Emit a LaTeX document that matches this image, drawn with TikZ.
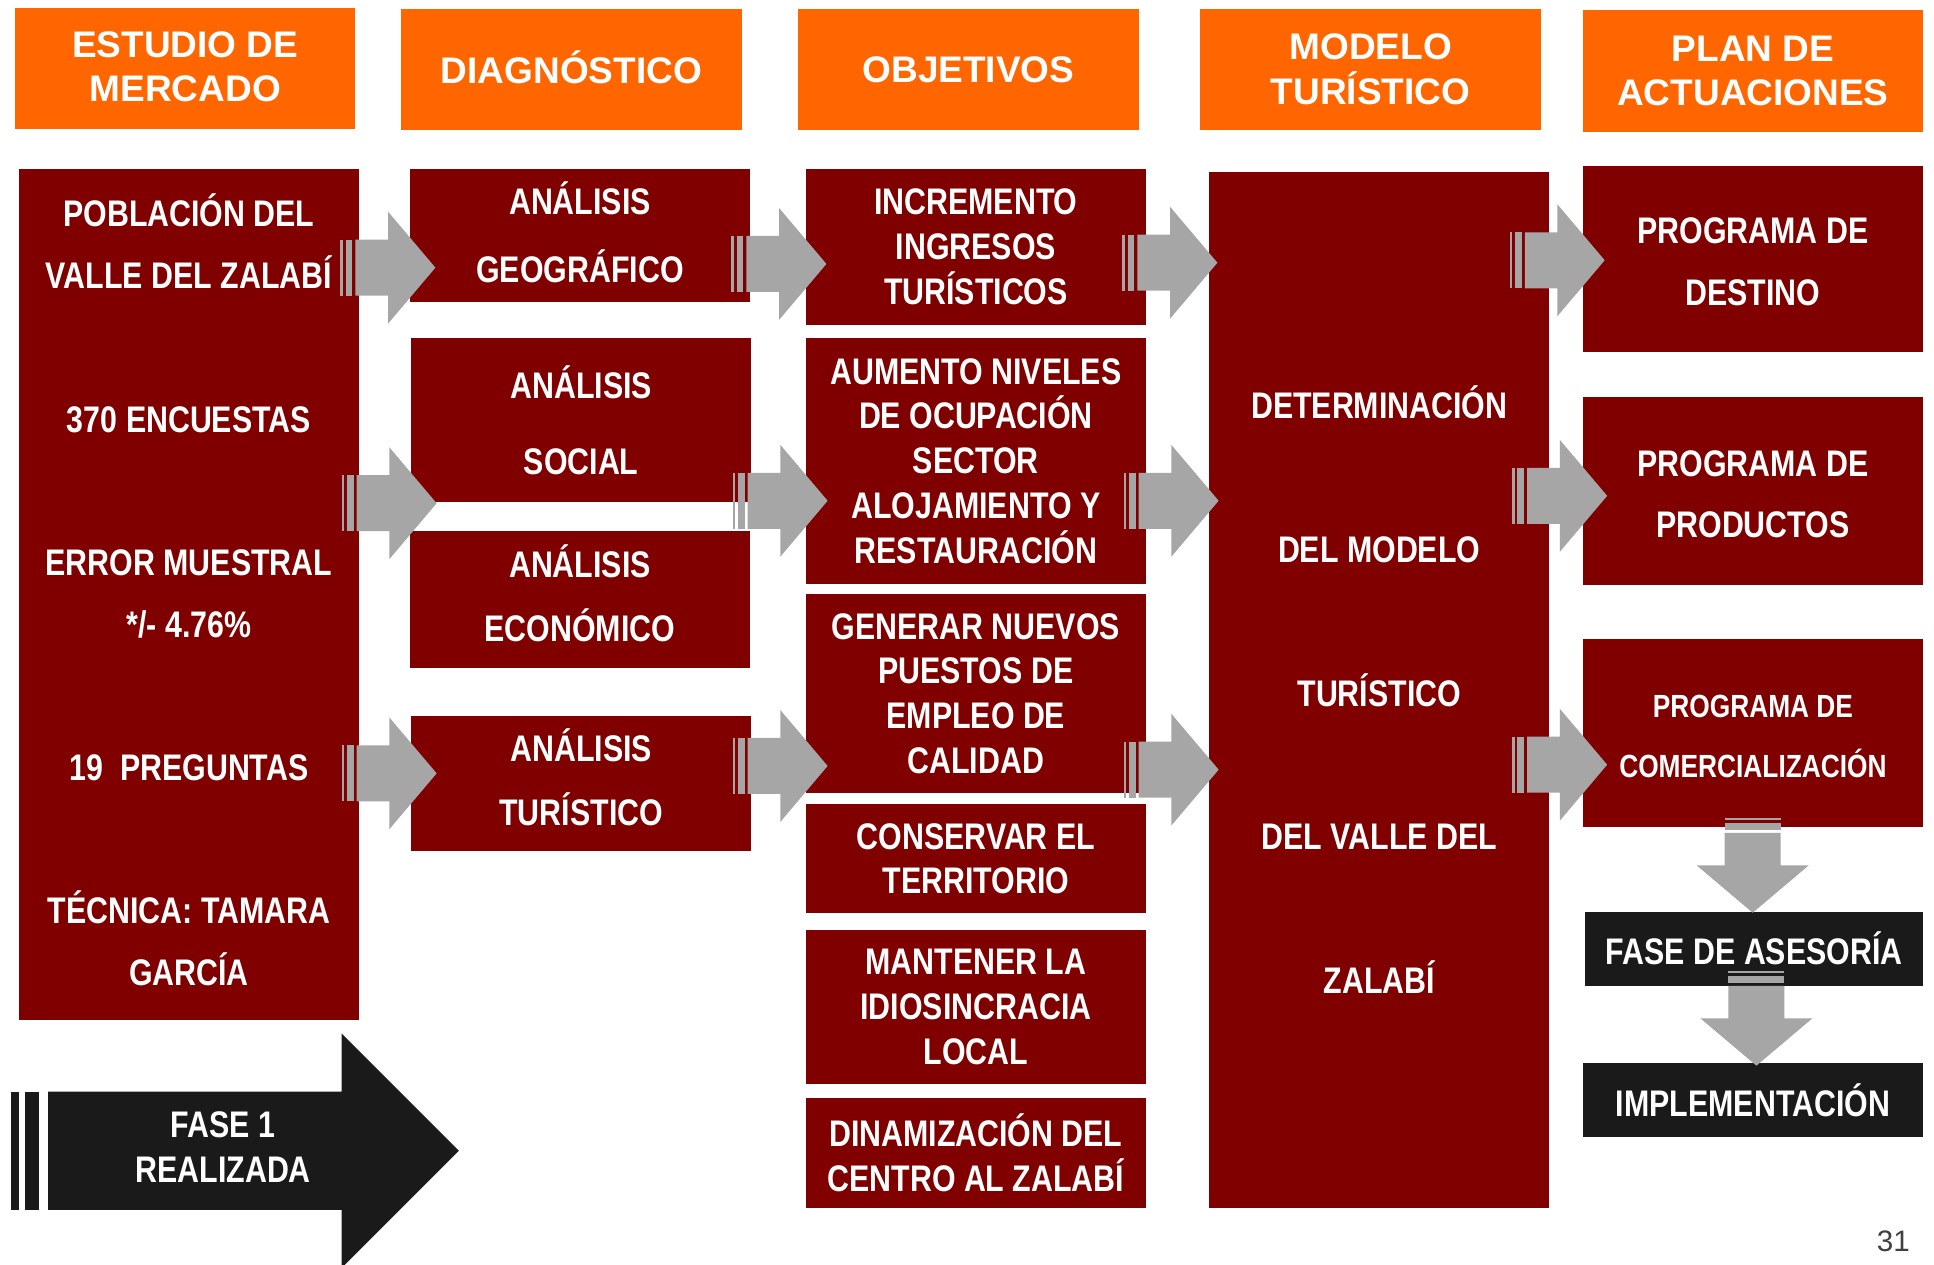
\documentclass[tikz,border=0pt]{standalone}
\usepackage{fontspec}
\setmainfont{Liberation Sans}
\newfontfamily\narrowfont{Liberation Sans}[FakeStretch=0.82]
\definecolor{orangeH}{HTML}{FF6600}
\definecolor{dred}{HTML}{800000}
\definecolor{agray}{HTML}{A6A6A6}
\definecolor{blk}{HTML}{1A1A1A}
\definecolor{pgnum}{HTML}{404040}
\newcommand\nf[2]{\narrowfont\bfseries\fontsize{#1}{#2}\selectfont}
\newcommand\mydp[1]{\rule[-#1]{0pt}{0pt}}
\newcommand\myht[1]{\rule{0pt}{#1}}
\tikzset{
  hdr/.style={fill=orangeH, text=white, font=\bfseries\fontsize{30}{36}\selectfont,
    align=center, inner sep=0pt, anchor=north west, minimum width=276, minimum height=98},
  rbox/.style={fill=dred, text=white, align=center, inner sep=0pt, anchor=north west,
    minimum width=276},
  kbox/.style={fill=blk, text=white, align=center, inner sep=0pt, anchor=north west,
    minimum width=276, minimum height=60, font={\nf{30}{36}}},
  rarrow/.pic={
    \fill[agray] (0,-22.7) rectangle (2.1,22.7);
    \fill[agray] (4.3,-22.7) rectangle (9.7,22.7);
    \fill[agray] (12.2,-22.7) -- (38.6,-22.7) -- (38.6,-45.4) -- (77,0)
      -- (38.6,45.4) -- (38.6,22.7) -- (12.2,22.7) -- cycle;
  },
  darrow/.pic={
    \fill[agray] (-22.7,0) rectangle (22.7,2.1);
    \fill[agray] (-22.7,4.3) rectangle (22.7,9.7);
    \fill[agray] (-22.7,12.2) -- (-22.7,38.6) -- (-45.4,38.6) -- (0,77)
      -- (45.4,38.6) -- (22.7,38.6) -- (22.7,12.2) -- cycle;
  }
}
\begin{document}
\begin{tikzpicture}[x=1pt,y=-1pt]
\fill[white] (0,0) rectangle (1568,1025);
\useasboundingbox (0,0) rectangle (1568,1025);

% headers
\node[hdr] (h1) at (12,6) {ESTUDIO DE\\MERCADO\mydp{2pt}};
\node[hdr] (h2) at (325,7) {DIAGNÓSTICO\mydp{3pt}};
\node[hdr] (h3) at (647,7) {OBJETIVOS};
\node[hdr] (h4) at (973,7) {MODELO\\TURÍSTICO};
\node[hdr, minimum height=99] (h5) at (1283,8) {PLAN DE\\ACTUACIONES};

% column 1
\node[rbox, minimum height=690, font={\nf{30}{50}}] (mercado) at (15,137)
  {POBLACIÓN DEL\\VALLE DEL ZALABÍ\\[66.5pt]370 ENCUESTAS\\[66pt]ERROR MUESTRAL\\*/- 4.76\%\\[66pt]19~~PREGUNTAS\\[66.5pt]TÉCNICA: TAMARA\\GARCÍA\mydp{8pt}};

% column 2
\node[rbox, minimum height=108, font={\nf{30}{55}}] (geo) at (332,137) {ANÁLISIS\\GEOGRÁFICO\mydp{6pt}};
\node[rbox, minimum height=133, font={\nf{30}{62}}] (soc) at (333,274) {ANÁLISIS\\SOCIAL};
\node[rbox, minimum height=111, font={\nf{30}{52}}] (eco) at (332,430) {ANÁLISIS\\ECONÓMICO\mydp{10pt}};
\node[rbox, minimum height=110, font={\nf{30}{52}}] (tur) at (333,580) {ANÁLISIS\\TURÍSTICO\mydp{10pt}};

% column 3
\node[rbox, minimum height=126, font={\nf{30}{36.5}}] (o1) at (653,137) {INCREMENTO\\INGRESOS\\TURÍSTICOS};
\node[rbox, minimum height=199, font={\nf{30}{36.3}}] (o2) at (653,274) {AUMENTO NIVELES\\DE OCUPACIÓN\\SECTOR\\ALOJAMIENTO Y\\RESTAURACIÓN};
\node[rbox, minimum height=162, font={\nf{30}{36.3}}] (o3) at (653,481) {GENERAR NUEVOS\\PUESTOS DE\\EMPLEO DE\\CALIDAD};
\node[rbox, minimum height=88, font={\nf{30}{36}}] (o4) at (653,652) {CONSERVAR EL\\TERRITORIO};
\node[rbox, minimum height=125, font={\nf{30}{36.5}}] (o5) at (653,754) {MANTENER LA\\IDIOSINCRACIA\\LOCAL};
\node[rbox, minimum height=89, font={\nf{30}{36}}] (o6) at (653,890) {DINAMIZACIÓN DEL\\CENTRO AL ZALABÍ};

% column 4
\node[rbox, minimum height=840, font={\nf{30}{116.5}}] (modelo) at (980,139)
  {DETERMINACIÓN\\DEL MODELO\\TURÍSTICO\\DEL VALLE DEL\\ZALABÍ};

% column 5
\node[rbox, minimum height=151, font={\nf{30}{50}}] (p1) at (1283,134) {\myht{26pt}PROGRAMA DE\\DESTINO};
\node[rbox, minimum height=152, font={\nf{30}{50}}] (p2) at (1283,322) {\myht{26pt}PROGRAMA DE\\PRODUCTOS};
\node[rbox, minimum height=152, font={\nf{26}{49}}] (p3) at (1283,518) {\myht{24pt}PROGRAMA DE\\COMERCIALIZACIÓN};
\node[kbox, minimum width=274] (ases) at (1285,739) {FASE DE ASESORÍA};
\node[kbox] (impl) at (1283,862) {IMPLEMENTACIÓN};

% grey arrows
\pic at (276,217) {rarrow};
\pic at (277,408) {rarrow};
\pic at (277,627) {rarrow};
\pic at (593,214) {rarrow};
\pic at (594,406) {rarrow};
\pic at (594,621) {rarrow};
\pic at (910,213) {rarrow};
\pic at (911,406) {rarrow};
\pic at (911,624) {rarrow};
\pic at (1224,211) {rarrow};
\pic at (1226,402) {rarrow};
\pic at (1226,620) {rarrow};
\pic at (1421,663) {darrow};
\pic at (1424,787) {darrow};

% FASE 1 arrow
\fill[blk] (9,885) rectangle (15,981);
\fill[blk] (20,885) rectangle (32,981);
\fill[blk] (39,885) -- (277,885) -- (277,838) -- (372,933) -- (277,1028)
  -- (277,981) -- (39,981) -- cycle;
\node[text=white, align=center, font={\nf{30}{36}}] (fase) at (181,930) {FASE 1\\REALIZADA};

% page number
\node[text=pgnum, font=\fontsize{24}{28}\selectfont] (pg) at (1535,1006) {31};
\end{tikzpicture}
\end{document}
